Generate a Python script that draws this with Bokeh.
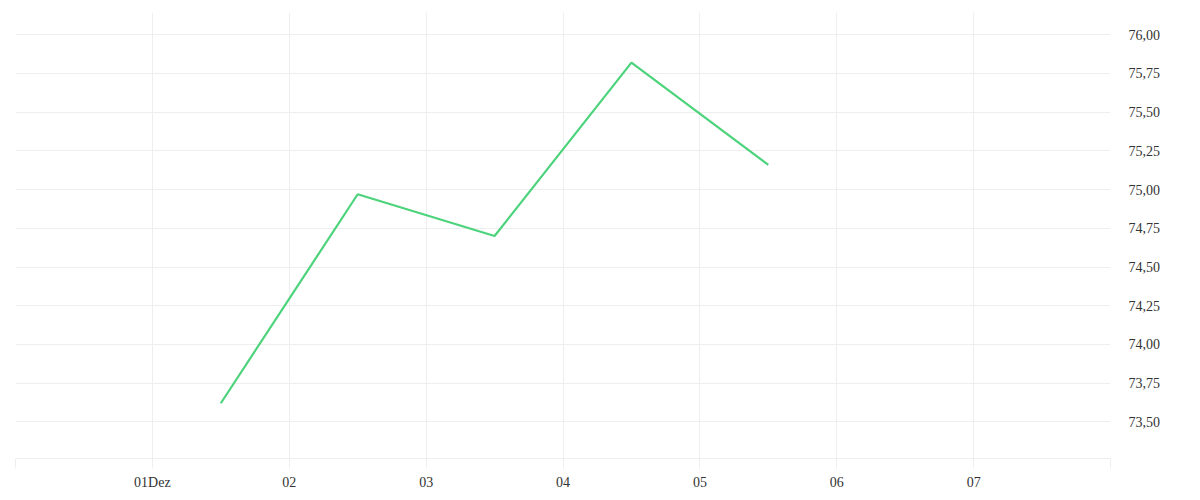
import pandas as pd
from bokeh.plotting import figure
from bokeh.models import Range1d, FixedTicker, LinearAxis
from bokeh.embed import file_html
from bokeh.resources import INLINE

# ---- data ----
dates = ["2023-12-01 12:00", "2023-12-02 12:00", "2023-12-03 12:00",
         "2023-12-04 12:00", "2023-12-05 12:00"]
values = [73.62, 74.97, 74.70, 75.82, 75.16]

x_tick_dates = ["2023-11-30", "2023-12-01", "2023-12-02", "2023-12-03", "2023-12-04",
                "2023-12-05", "2023-12-06", "2023-12-07", "2023-12-08"]
x_tick_labels = ["", "01Dez", "02", "03", "04", "05", "06", "07", ""]

y_ticks = [73.50, 73.75, 74.00, 74.25, 74.50, 74.75, 75.00, 75.25, 75.50, 75.75, 76.00]
y_tick_labels = ["73,50", "73,75", "74,00", "74,25", "74,50", "74,75",
                 "75,00", "75,25", "75,50", "75,75", "76,00"]

x_start, x_end = "2023-11-30", "2023-12-08"
y_start, y_end = 73.263, 76.144

# ---- styles ----
FONT = "Liberation Serif"
TEXT_COLOR = "#333333"
GRID_COLOR = "#eeeeee"
LINE_COLOR = "#4cd37b"

def ms(s):
    return pd.Timestamp(s).value / 1e6

x = pd.to_datetime(dates)
x_ticks = [ms(d) for d in x_tick_dates]

p = figure(frame_width=1095, frame_height=446, x_axis_type="datetime",
           output_backend="svg", toolbar_location=None,
           x_range=Range1d(ms(x_start), ms(x_end)),
           y_range=Range1d(y_start, y_end),
           y_axis_location=None,
           min_border_left=15, min_border_top=12, min_border_right=0, min_border_bottom=0)

p.outline_line_color = None
p.background_fill_color = "white"
p.border_fill_color = "white"

p.line(x, values, line_color=LINE_COLOR, line_width=2.2)

# x axis
xa = p.xaxis[0]
xa.ticker = FixedTicker(ticks=x_ticks)
xa.major_label_overrides = {t: l for t, l in zip(x_ticks, x_tick_labels)}
xa.axis_line_color = GRID_COLOR
xa.major_tick_line_color = GRID_COLOR
xa.major_tick_in = 0
xa.major_tick_out = 10
xa.minor_tick_line_color = None
xa.major_label_standoff = 6
xa.major_label_text_font = FONT
xa.major_label_text_font_size = "14px"
xa.major_label_text_color = TEXT_COLOR

# y axis on right
ya = LinearAxis(ticker=FixedTicker(ticks=y_ticks))
ya.major_label_overrides = {t: l for t, l in zip(y_ticks, y_tick_labels)}
ya.axis_line_color = None
ya.major_tick_line_color = None
ya.minor_tick_line_color = None
ya.major_tick_in = 0
ya.major_tick_out = 0
ya.major_label_standoff = 18
ya.major_label_text_font = FONT
ya.major_label_text_font_size = "14px"
ya.major_label_text_color = TEXT_COLOR
p.add_layout(ya, "right")

p.xgrid[0].ticker = FixedTicker(ticks=x_ticks)
p.xgrid[0].grid_line_color = GRID_COLOR
p.ygrid[0].ticker = FixedTicker(ticks=y_ticks)
p.ygrid[0].grid_line_color = GRID_COLOR
p.ygrid[0].grid_line_width = 1
p.xgrid[0].grid_line_width = 1

open("out.html", "w").write(file_html(p, INLINE))
